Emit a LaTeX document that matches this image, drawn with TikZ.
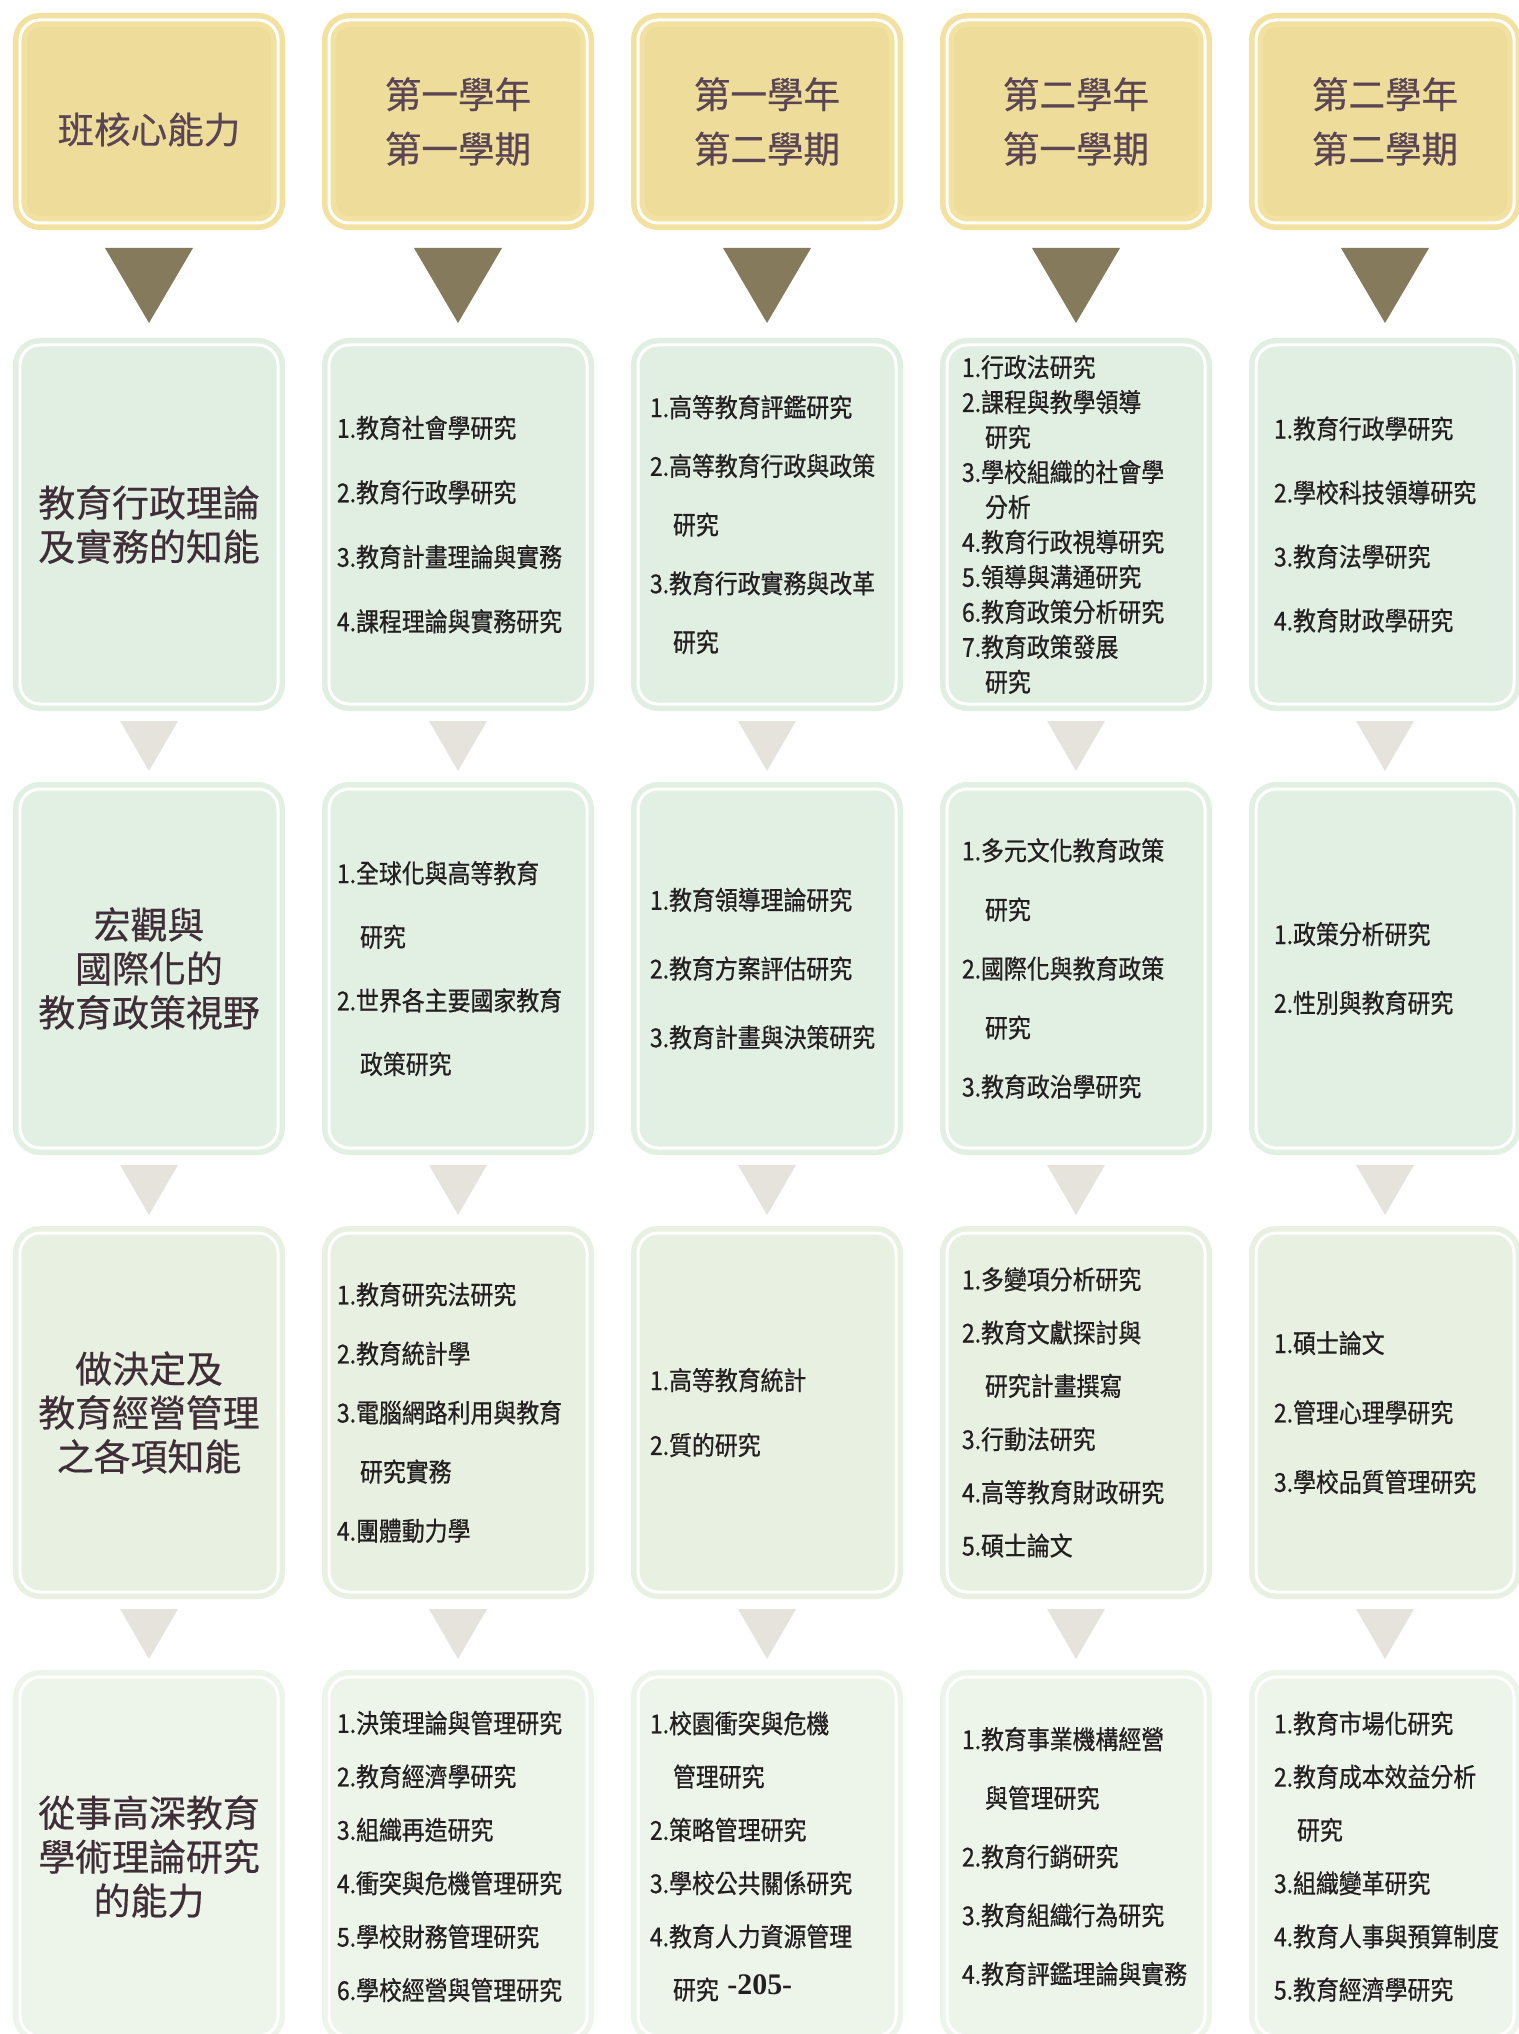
\documentclass[tikz,border=0pt]{standalone}
\usepackage{fontspec}
\usepackage{tikz}
\usetikzlibrary{positioning, calc}

\newfontfamily\headfont[FakeBold=0.5]{Noto Sans CJK TC}
\newfontfamily\listfont[FakeStretch=0.88, FakeBold=0.7]{Noto Sans CJK TC}
\newfontfamily\pagefont{Liberation Serif}

\definecolor{headRing}{HTML}{F2E1A0}
\definecolor{headFill}{HTML}{EEDD9A}
\definecolor{headText}{HTML}{5B4453}
\definecolor{darkTri}{HTML}{857B5C}
\definecolor{lightTri}{HTML}{E6E3DD}
\definecolor{greenA}{HTML}{E1EEE2}
\definecolor{greenB}{HTML}{E2EFE3}
\definecolor{greenC}{HTML}{E7F0E1}
\definecolor{greenD}{HTML}{EDF4EA}
\definecolor{titleText}{HTML}{3F2E37}
\definecolor{listText}{HTML}{231F20}

\newcommand{\listsp}[1]{\listfont\fontsize{14.8pt}{#1}\selectfont}
\newcommand{\subind}{\hspace*{0.46cm}}

\tikzstyle{cardbox} = [rectangle, rounded corners=0.4cm, line width=0.11cm, double=white, double distance=0.06cm, inner sep=0pt, outer sep=0pt, minimum width=5.16cm]
\tikzstyle{headbox} = [cardbox, minimum height=4.06cm, draw=headRing, fill=headFill, text=headText, align=center, font=\headfont\fontsize{20.8pt}{31pt}\selectfont]
\tikzstyle{rowbox} = [cardbox, minimum height=7.18cm]
\tikzstyle{corebox} = [rowbox, align=center, text=titleText, font=\headfont\fontsize{21pt}{25pt}\selectfont]
\tikzstyle{listbox} = [rowbox, align=left, text=listText]
\tikzstyle{adminrow} = [draw=greenA, fill=greenA]
\tikzstyle{policyrow} = [draw=greenB, fill=greenB]
\tikzstyle{decisionrow} = [draw=greenC, fill=greenC]
\tikzstyle{researchrow} = [draw=greenD, fill=greenD]
\tikzstyle{darkarrow} = [fill=darkTri]
\tikzstyle{lightarrow} = [fill=lightTri]

\begin{document}
\begin{tikzpicture}
    \useasboundingbox (0,0) rectangle (30.36,-40.68);

    % header row
    \node (coreHead) [headbox] at (2.98,-2.43) {\raisebox{-0.16cm}[\height][\depth]{班核心能力}};
    \node (sem11Head) [headbox, right=1.02cm of coreHead] {第一學年\\第一學期};
    \node (sem12Head) [headbox, right=1.02cm of sem11Head] {第一學年\\第二學期};
    \node (sem21Head) [headbox, right=1.02cm of sem12Head] {第二學年\\第一學期};
    \node (sem22Head) [headbox, right=1.02cm of sem21Head] {第二學年\\第二學期};

    % administration
    \node (adminCore) [corebox, adminrow, below=2.44cm of coreHead] {教育行政理論\\及實務的知能};
    \node (admin11) [listbox, adminrow, text width=4.84cm, font=\listsp{36.7pt}, right=1.02cm of adminCore] {1.教育社會學研究\\2.教育行政學研究\\3.教育計畫理論與實務\\4.課程理論與實務研究};
    \node (admin12) [listbox, adminrow, text width=4.68cm, font=\listsp{33.4pt}, right=1.02cm of admin11] {1.高等教育評鑑研究\\2.高等教育行政與政策\\\subind 研究\\3.教育行政實務與改革\\\subind 研究};
    \node (admin21) [listbox, adminrow, text width=4.56cm, font=\listsp{19.9pt}, right=1.02cm of admin12] {1.行政法研究\\2.課程與教學領導\\\subind 研究\\3.學校組織的社會學\\\subind 分析\\4.教育行政視導研究\\5.領導與溝通研究\\6.教育政策分析研究\\7.教育政策發展\\\subind 研究};
    \node (admin22) [listbox, adminrow, text width=4.44cm, font=\listsp{36.4pt}, right=1.02cm of admin21] {1.教育行政學研究\\2.學校科技領導研究\\3.教育法學研究\\4.教育財政學研究};

    % policy
    \node (policyCore) [corebox, policyrow, below=1.7cm of adminCore] {宏觀與\\國際化的\\教育政策視野};
    \node (policy11) [listbox, policyrow, text width=4.84cm, font=\listsp{36.2pt}, right=1.02cm of policyCore] {1.全球化與高等教育\\\subind 研究\\2.世界各主要國家教育\\\subind 政策研究};
    \node (policy12) [listbox, policyrow, text width=4.68cm, font=\listsp{39.1pt}, right=1.02cm of policy11] {1.教育領導理論研究\\2.教育方案評估研究\\3.教育計畫與決策研究};
    \node (policy21) [listbox, policyrow, text width=4.56cm, font=\listsp{33.6pt}, right=1.02cm of policy12] {1.多元文化教育政策\\\subind 研究\\2.國際化與教育政策\\\subind 研究\\3.教育政治學研究};
    \node (policy22) [listbox, policyrow, text width=4.44cm, font=\listsp{39.1pt}, right=1.02cm of policy21] {1.政策分析研究\\2.性別與教育研究};

    % decision making
    \node (decisionCore) [corebox, decisionrow, below=1.7cm of policyCore] {做決定及\\教育經營管理\\之各項知能};
    \node (decision11) [listbox, decisionrow, text width=4.84cm, font=\listsp{33.6pt}, right=1.02cm of decisionCore] {1.教育研究法研究\\2.教育統計學\\3.電腦網路利用與教育\\\subind 研究實務\\4.團體動力學};
    \node (decision12) [listbox, decisionrow, text width=4.68cm, font=\listsp{36.9pt}, right=1.02cm of decision11] {1.高等教育統計\\2.質的研究};
    \node (decision21) [listbox, decisionrow, text width=4.56cm, font=\listsp{30.3pt}, right=1.02cm of decision12] {1.多變項分析研究\\2.教育文獻探討與\\\subind 研究計畫撰寫\\3.行動法研究\\4.高等教育財政研究\\5.碩士論文};
    \node (decision22) [listbox, decisionrow, text width=4.44cm, font=\listsp{39.5pt}, right=1.02cm of decision21] {1.碩士論文\\2.管理心理學研究\\3.學校品質管理研究};

    % research
    \node (researchCore) [corebox, researchrow, below=1.7cm of decisionCore] {從事高深教育\\學術理論研究\\的能力};
    \node (research11) [listbox, researchrow, text width=4.84cm, font=\listsp{30.4pt}, right=1.02cm of researchCore] {1.決策理論與管理研究\\2.教育經濟學研究\\3.組織再造研究\\4.衝突與危機管理研究\\5.學校財務管理研究\\6.學校經營與管理研究};
    \node (research12) [listbox, researchrow, text width=4.68cm, font=\listsp{30.3pt}, right=1.02cm of research11] {1.校園衝突與危機\\\subind 管理研究\\2.策略管理研究\\3.學校公共關係研究\\4.教育人力資源管理\\\subind 研究 \raisebox{0.1cm}{\pagefont\bfseries\fontsize{17pt}{17pt}\selectfont -205-}};
    \node (research21) [listbox, researchrow, text width=4.56cm, font=\listsp{33.4pt}, right=1.02cm of research12] {1.教育事業機構經營\\\subind 與管理研究\\2.教育行銷研究\\3.教育組織行為研究\\4.教育評鑑理論與實務};
    \node (research22) [listbox, researchrow, text width=4.44cm, font=\listsp{30.3pt}, right=1.02cm of research21] {1.教育市場化研究\\2.教育成本效益分析\\\subind 研究\\3.組織變革研究\\4.教育人事與預算制度\\5.教育經濟學研究};

    % dark triangles under the header
    \fill [darkarrow] ($(coreHead.south)+(-0.88,-0.5)$) -- ($(coreHead.south)+(0.88,-0.5)$) -- ($(adminCore.north)+(0,0.44)$) -- cycle;
    \fill [darkarrow] ($(sem11Head.south)+(-0.88,-0.5)$) -- ($(sem11Head.south)+(0.88,-0.5)$) -- ($(admin11.north)+(0,0.44)$) -- cycle;
    \fill [darkarrow] ($(sem12Head.south)+(-0.88,-0.5)$) -- ($(sem12Head.south)+(0.88,-0.5)$) -- ($(admin12.north)+(0,0.44)$) -- cycle;
    \fill [darkarrow] ($(sem21Head.south)+(-0.88,-0.5)$) -- ($(sem21Head.south)+(0.88,-0.5)$) -- ($(admin21.north)+(0,0.44)$) -- cycle;
    \fill [darkarrow] ($(sem22Head.south)+(-0.88,-0.5)$) -- ($(sem22Head.south)+(0.88,-0.5)$) -- ($(admin22.north)+(0,0.44)$) -- cycle;

    % light triangles between rows
    \fill [lightarrow] ($(adminCore.south)+(-0.58,-0.34)$) -- ($(adminCore.south)+(0.58,-0.34)$) -- ($(policyCore.north)+(0,0.36)$) -- cycle;
    \fill [lightarrow] ($(admin11.south)+(-0.58,-0.34)$) -- ($(admin11.south)+(0.58,-0.34)$) -- ($(policy11.north)+(0,0.36)$) -- cycle;
    \fill [lightarrow] ($(admin12.south)+(-0.58,-0.34)$) -- ($(admin12.south)+(0.58,-0.34)$) -- ($(policy12.north)+(0,0.36)$) -- cycle;
    \fill [lightarrow] ($(admin21.south)+(-0.58,-0.34)$) -- ($(admin21.south)+(0.58,-0.34)$) -- ($(policy21.north)+(0,0.36)$) -- cycle;
    \fill [lightarrow] ($(admin22.south)+(-0.58,-0.34)$) -- ($(admin22.south)+(0.58,-0.34)$) -- ($(policy22.north)+(0,0.36)$) -- cycle;

    \fill [lightarrow] ($(policyCore.south)+(-0.58,-0.34)$) -- ($(policyCore.south)+(0.58,-0.34)$) -- ($(decisionCore.north)+(0,0.36)$) -- cycle;
    \fill [lightarrow] ($(policy11.south)+(-0.58,-0.34)$) -- ($(policy11.south)+(0.58,-0.34)$) -- ($(decision11.north)+(0,0.36)$) -- cycle;
    \fill [lightarrow] ($(policy12.south)+(-0.58,-0.34)$) -- ($(policy12.south)+(0.58,-0.34)$) -- ($(decision12.north)+(0,0.36)$) -- cycle;
    \fill [lightarrow] ($(policy21.south)+(-0.58,-0.34)$) -- ($(policy21.south)+(0.58,-0.34)$) -- ($(decision21.north)+(0,0.36)$) -- cycle;
    \fill [lightarrow] ($(policy22.south)+(-0.58,-0.34)$) -- ($(policy22.south)+(0.58,-0.34)$) -- ($(decision22.north)+(0,0.36)$) -- cycle;

    \fill [lightarrow] ($(decisionCore.south)+(-0.58,-0.34)$) -- ($(decisionCore.south)+(0.58,-0.34)$) -- ($(researchCore.north)+(0,0.36)$) -- cycle;
    \fill [lightarrow] ($(decision11.south)+(-0.58,-0.34)$) -- ($(decision11.south)+(0.58,-0.34)$) -- ($(research11.north)+(0,0.36)$) -- cycle;
    \fill [lightarrow] ($(decision12.south)+(-0.58,-0.34)$) -- ($(decision12.south)+(0.58,-0.34)$) -- ($(research12.north)+(0,0.36)$) -- cycle;
    \fill [lightarrow] ($(decision21.south)+(-0.58,-0.34)$) -- ($(decision21.south)+(0.58,-0.34)$) -- ($(research21.north)+(0,0.36)$) -- cycle;
    \fill [lightarrow] ($(decision22.south)+(-0.58,-0.34)$) -- ($(decision22.south)+(0.58,-0.34)$) -- ($(research22.north)+(0,0.36)$) -- cycle;
\end{tikzpicture}
\end{document}
